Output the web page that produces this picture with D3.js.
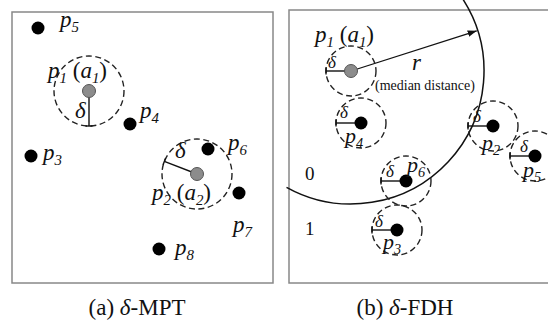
<!DOCTYPE html>
<html><head><meta charset="utf-8">
<script src="https://cdn.jsdelivr.net/npm/d3@7"></script>
<style>
body{margin:0;background:#fff}
svg{display:block;font-family:"Liberation Serif","Times New Roman",serif}
</style></head><body>
<svg id="fig" width="548" height="323"></svg>
<script>
// panel (a) delta-MPT: plain points and the two anchors (panel units)
const mptPoints = [
  {id: "5", x: 26, y: 16},
  {id: "4", x: 118, y: 112},
  {id: "3", x: 19, y: 144},
  {id: "6", x: 196, y: 137},
  {id: "7", x: 227, y: 181},
  {id: "8", x: 147, y: 237}
];
const mptAnchors = [
  {id: "1", a: "1", x: 77, y: 79, deltaAngle: 90},
  {id: "2", a: "2", x: 185, y: 162, deltaAngle: 201}
];
const mptDelta = 35;

// panel (b) delta-FDH
const fdhAnchor = {id: "1", a: "1", x: 62, y: 61};
const fdhPoints = [
  {id: "4", x: 72, y: 113},
  {id: "6", x: 117, y: 171},
  {id: "3", x: 108, y: 220},
  {id: "2", x: 204, y: 116},
  {id: "5", x: 246, y: 146}
];
const fdhDelta = 25;
const medianR = 133;
const arcFrom = -33, arcTo = 119;   // degrees
const arrowAngle = -17.7;
const regionLabels = ["0", "1"];
const captions = [["(a) ", "δ", "-MPT"], ["(b) ", "δ", "-FDH"]];

// label offsets from their point (pixels)
const mptLabelOff = {"5": [22, -1], "4": [10, -6], "3": [12, 4], "6": [20, 1], "7": [-6, 39], "8": [16, 6]};
const mptAnchorOff = {"1": {lab: [-41, -13], d: [-14, 27]}, "2": {lab: [-45, 26], d: [-22, -16]}};
const fdhLabelOff = {"1": [-36, -29], "4": [-16, 20], "6": [1, -9], "3": [-14, 19], "2": [-11, 24], "5": [-12, 21]};
const fdhDeltaOff = {"1": [-23, -3], "4": [-21, -5], "6": [-20, -4], "3": [-22, -3], "2": [-20, -4], "5": [-15, -4]};

const svg = d3.select("#fig");
const rad = d => d * Math.PI / 180;

svg.append("defs").append("marker")
  .attr("id", "arr").attr("viewBox", "0 0 10 10").attr("refX", 10).attr("refY", 5)
  .attr("markerWidth", 7).attr("markerHeight", 7).attr("orient", "auto")
  .append("path").attr("d", "M0,1.5 L10,5 L0,8.5 Z").attr("fill", "#111");

function pLabel(g, x, y, sub, size, anchorSub) {
  const t = g.append("text").attr("x", x).attr("y", y).attr("font-size", size).attr("fill", "#111");
  t.append("tspan").attr("font-style", "italic").text("p");
  t.append("tspan").attr("font-style", "italic").attr("font-size", size * 0.65).attr("dy", size * 0.22).text(sub);
  if (anchorSub) {
    t.append("tspan").attr("dy", -size * 0.22).text(" (");
    t.append("tspan").attr("font-style", "italic").text("a");
    t.append("tspan").attr("font-style", "italic").attr("font-size", size * 0.65).attr("dy", size * 0.22).text(anchorSub);
    t.append("tspan").attr("dy", -size * 0.22).text(")");
  }
}
function deltaLabel(g, x, y, size) {
  g.append("text").attr("x", x).attr("y", y).attr("font-size", size)
    .attr("font-style", "italic").attr("fill", "#111").text("δ");
}
function deltaLine(g, x, y, ang, len) {
  const ex = x + len * Math.cos(rad(ang)), ey = y + len * Math.sin(rad(ang));
  const px = 3.5 * Math.cos(rad(ang + 90)), py = 3.5 * Math.sin(rad(ang + 90));
  g.append("line").attr("x1", x).attr("y1", y).attr("x2", ex).attr("y2", ey)
    .attr("stroke", "#111").attr("stroke-width", 1.4);
  g.append("line").attr("x1", ex - px).attr("y1", ey - py).attr("x2", ex + px).attr("y2", ey + py)
    .attr("stroke", "#111").attr("stroke-width", 1.4);
}
function dashed(g, x, y, r) {
  g.append("circle").attr("cx", x).attr("cy", y).attr("r", r)
    .attr("fill", "none").attr("stroke", "#222").attr("stroke-width", 1.4)
    .attr("stroke-dasharray", "6,3.5");
}

// ---------- panel (a)
const xA = d3.scaleLinear().domain([0, 261]).range([12, 273]);
const yA = d3.scaleLinear().domain([0, 271]).range([12, 283]);
const gA = svg.append("g");
gA.append("rect").attr("x", xA(0)).attr("y", yA(0))
  .attr("width", xA(261) - xA(0)).attr("height", yA(271) - yA(0))
  .attr("fill", "none").attr("stroke", "#888").attr("stroke-width", 1.5);

mptAnchors.forEach(d => {
  const cx = xA(d.x), cy = yA(d.y), r = xA(mptDelta) - xA(0);
  dashed(gA, cx, cy, r);
  deltaLine(gA, cx, cy, d.deltaAngle, r);
  gA.append("circle").attr("cx", cx).attr("cy", cy).attr("r", 6.5)
    .attr("fill", "#8c8c8c").attr("stroke", "#555").attr("stroke-width", 1);
  const o = mptAnchorOff[d.id];
  pLabel(gA, cx + o.lab[0], cy + o.lab[1], d.id, 23, d.a);
  deltaLabel(gA, cx + o.d[0], cy + o.d[1], 23);
});
gA.selectAll("circle.pt").data(mptPoints).enter().append("circle").attr("class", "pt")
  .attr("cx", d => xA(d.x)).attr("cy", d => yA(d.y)).attr("r", 6.5).attr("fill", "#000");
mptPoints.forEach(d => {
  const o = mptLabelOff[d.id];
  pLabel(gA, xA(d.x) + o[0], yA(d.y) + o[1], d.id, 23);
});

// ---------- panel (b)
const xB = d3.scaleLinear().domain([0, 271]).range([289, 560]);
const yB = d3.scaleLinear().domain([0, 273]).range([10, 283]);
const gB = svg.append("g");
gB.append("rect").attr("x", xB(0)).attr("y", yB(0))
  .attr("width", xB(271) - xB(0)).attr("height", yB(273) - yB(0))
  .attr("fill", "none").attr("stroke", "#888").attr("stroke-width", 1.5);

const acx = xB(fdhAnchor.x), acy = yB(fdhAnchor.y);
const R = xB(medianR) - xB(0);
const arcPath = d3.path();
arcPath.arc(acx, acy, R, rad(arcFrom), rad(arcTo), false);
gB.append("path").attr("d", arcPath.toString()).attr("fill", "none")
  .attr("stroke", "#111").attr("stroke-width", 1.5);

gB.append("line").attr("x1", acx).attr("y1", acy)
  .attr("x2", acx + (R - 1) * Math.cos(rad(arrowAngle)))
  .attr("y2", acy + (R - 1) * Math.sin(rad(arrowAngle)))
  .attr("stroke", "#111").attr("stroke-width", 1.3).attr("marker-end", "url(#arr)");

const rB = xB(fdhDelta) - xB(0);
[fdhAnchor, ...fdhPoints].forEach(d => {
  const cx = xB(d.x), cy = yB(d.y);
  dashed(gB, cx, cy, rB);
  deltaLine(gB, cx, cy, 180, rB);
});
gB.append("circle").attr("cx", acx).attr("cy", acy).attr("r", 6.5)
  .attr("fill", "#8c8c8c").attr("stroke", "#555").attr("stroke-width", 1);
gB.selectAll("circle.pt").data(fdhPoints).enter().append("circle").attr("class", "pt")
  .attr("cx", d => xB(d.x)).attr("cy", d => yB(d.y)).attr("r", 6.5).attr("fill", "#000");

[fdhAnchor, ...fdhPoints].forEach(d => {
  const o = fdhLabelOff[d.id], od = fdhDeltaOff[d.id];
  pLabel(gB, xB(d.x) + o[0], yB(d.y) + o[1], d.id, d.a ? 23 : 22, d.a);
  deltaLabel(gB, xB(d.x) + od[0], yB(d.y) + od[1], 17);
});

gB.append("text").attr("x", 412).attr("y", 70).attr("font-size", 23)
  .attr("font-style", "italic").attr("fill", "#111").text("r");
gB.append("text").attr("x", 375).attr("y", 90).attr("font-size", 14)
  .attr("fill", "#111").text("(median distance)");
gB.selectAll("text.reg").data(regionLabels).enter().append("text").attr("class", "reg")
  .attr("x", 305).attr("y", (d, i) => 180 + i * 55).attr("font-size", 19)
  .attr("fill", "#111").text(d => d);

// ---------- captions
const capX = [137, 405];
captions.forEach((c, i) => {
  const t = svg.append("text").attr("x", capX[i]).attr("y", 315).attr("font-size", 23)
    .attr("text-anchor", "middle").attr("fill", "#111");
  t.append("tspan").text(c[0]);
  t.append("tspan").attr("font-style", "italic").text(c[1]);
  t.append("tspan").text(c[2]);
});
</script>
</body></html>
